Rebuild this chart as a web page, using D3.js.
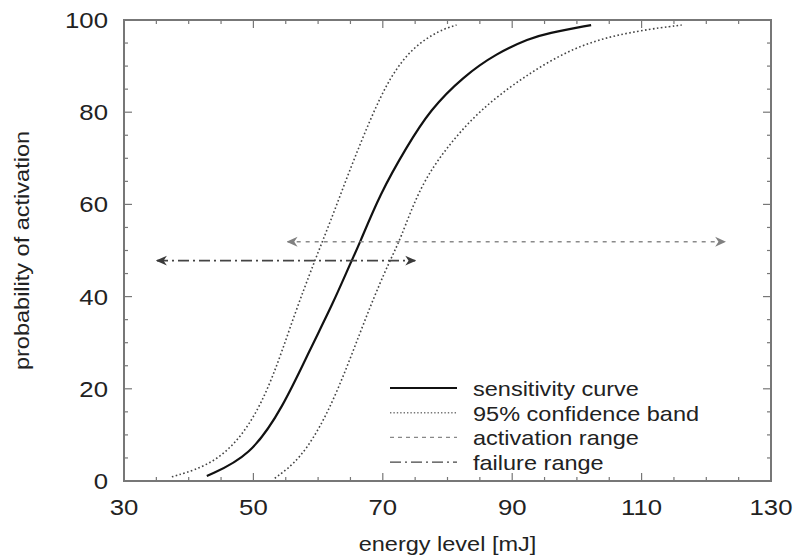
<!DOCTYPE html>
<html>
<head>
<meta charset="utf-8">
<script src="https://cdn.jsdelivr.net/npm/d3@7"></script>
<style>
  body { margin: 0; background: #fff; }
  text { font-family: "Liberation Sans", Arial, Helvetica, sans-serif; fill: #222; }
</style>
</head>
<body>
<div id="chart"></div>
<script>
// values
var xTicks = [30, 50, 70, 90, 110, 130];
var yTicks = [0, 20, 40, 60, 80, 100];

var sensX = [42.8, 49.5, 54.6, 58.7, 62.3, 65.2, 66.2, 69.6, 73.7, 77.3, 82.4, 87.6, 92.7, 95.3, 102.2];
var sensY = [1.1, 5.3, 16.1, 28.4, 38.5, 47.9, 50.8, 62.4, 72.5, 80.5, 87.7, 92.8, 96.0, 97.1, 98.9];

var loBandX = [37.4, 44.3, 49.5, 53.1, 56.2, 59.5, 61.8, 64.9, 68.0, 71.1, 74.7, 78.8, 81.4];
var loBandY = [0.9, 3.8, 11.8, 22.6, 35.6, 47.9, 55.9, 67.5, 78.3, 87.7, 94.2, 97.8, 98.9];

var hiBandX = [53.3, 57.2, 61.3, 64.9, 68.0, 71.1, 72.7, 75.7, 79.9, 85.0, 91.7, 100.5, 109.8, 116.2];
var hiBandY = [0.6, 4.6, 13.9, 26.2, 37.8, 47.9, 52.3, 63.8, 72.5, 80.5, 87.7, 95.0, 97.8, 98.9];

var activationRange = [55.3, 122.9], activationLevel = 51.9;
var failureRange = [35.1, 75.0], failureLevel = 47.8;

var legendLabels = ["sensitivity curve", "95% confidence band", "activation range", "failure range"];

// boilerplate
var W = 798, H = 559;
var margin = { top: 20, right: 27, bottom: 78, left: 124 },
    width = W - margin.left - margin.right,
    height = H - margin.top - margin.bottom;

var svg = d3.select("#chart").append("svg")
  .attr("width", W).attr("height", H);

var defs = svg.append("defs");
function addMarker(id, color) {
  defs.append("marker")
    .attr("id", id)
    .attr("viewBox", "0 -5 10 10")
    .attr("refX", 9).attr("refY", 0)
    .attr("markerWidth", 11).attr("markerHeight", 11)
    .attr("markerUnits", "userSpaceOnUse")
    .attr("orient", "auto-start-reverse")
    .append("path")
    .attr("d", "M0,-4.5L10,0L0,4.5L3,0Z")
    .attr("fill", color);
}
addMarker("arrGray", "#808080");
addMarker("arrDark", "#3a3a3a");

var g = svg.append("g")
  .attr("transform", "translate(" + margin.left + "," + margin.top + ")");

var xScale = d3.scaleLinear().domain([30, 130]).range([0, width]);
var yScale = d3.scaleLinear().domain([0, 100]).range([height, 0]);

// glyphs in the picture are a bit wider than tall
var stretch = 1.12;
function addText(sel, x, y, str, anchor, rot, size) {
  return sel.append("text")
    .attr("transform", "translate(" + x + "," + y + ")" + (rot ? " rotate(" + rot + ")" : "") + " scale(" + stretch + ",1)")
    .attr("text-anchor", anchor)
    .style("font-size", (size || 22) + "px")
    .text(str);
}

// ticks, inward on all four sides
var axisColor = "#777";
var minorX = d3.range(30, 131, 5), minorY = d3.range(0, 101, 5);
var tickG = g.append("g").attr("stroke", axisColor).attr("stroke-width", 1.2);
minorX.forEach(function(v) {
  var len = (xTicks.indexOf(v) >= 0) ? 8 : 4;
  tickG.append("line").attr("x1", xScale(v)).attr("x2", xScale(v)).attr("y1", height).attr("y2", height - len);
  tickG.append("line").attr("x1", xScale(v)).attr("x2", xScale(v)).attr("y1", 0).attr("y2", len);
});
minorY.forEach(function(v) {
  var len = (yTicks.indexOf(v) >= 0) ? 8 : 4;
  tickG.append("line").attr("y1", yScale(v)).attr("y2", yScale(v)).attr("x1", 0).attr("x2", len);
  tickG.append("line").attr("y1", yScale(v)).attr("y2", yScale(v)).attr("x1", width).attr("x2", width - len);
});

// frame
g.append("rect")
  .attr("width", width).attr("height", height)
  .attr("fill", "none").attr("stroke", axisColor).attr("stroke-width", 2);

// tick labels
xTicks.forEach(function(v) {
  addText(g, xScale(v), height + 34, String(v), "middle", 0, 23);
});
yTicks.forEach(function(v) {
  addText(g, -16, yScale(v) + 8, String(v), "end", 0, 23);
});

// axis titles
addText(g, width / 2, height + 70, "energy level [mJ]", "middle", 0, 21);
addText(g, -95, height / 2, "probability of activation", "middle", -90, 21);

// curves
var line = d3.line()
  .x(function(d) { return xScale(d[0]); })
  .y(function(d) { return yScale(d[1]); })
  .curve(d3.curveBasis);

function zipXY(xs, ys) { return xs.map(function(x, i) { return [x, ys[i]]; }); }

[zipXY(loBandX, loBandY), zipXY(hiBandX, hiBandY)].forEach(function(pts) {
  g.append("path").datum(pts)
    .attr("d", line).attr("fill", "none")
    .attr("stroke", "#444").attr("stroke-width", 1.6)
    .attr("stroke-dasharray", "1.6,2.4");
});
g.append("path").datum(zipXY(sensX, sensY))
  .attr("d", line).attr("fill", "none")
  .attr("stroke", "#111").attr("stroke-width", 2.2);

// range arrows
g.append("line")
  .attr("x1", xScale(activationRange[0])).attr("x2", xScale(activationRange[1]))
  .attr("y1", yScale(activationLevel)).attr("y2", yScale(activationLevel))
  .attr("stroke", "#8a8a8a").attr("stroke-width", 1.6)
  .attr("stroke-dasharray", "4,5")
  .attr("marker-start", "url(#arrGray)").attr("marker-end", "url(#arrGray)");
g.append("line")
  .attr("x1", xScale(failureRange[0])).attr("x2", xScale(failureRange[1]))
  .attr("y1", yScale(failureLevel)).attr("y2", yScale(failureLevel))
  .attr("stroke", "#444").attr("stroke-width", 1.7)
  .attr("stroke-dasharray", "11,4,2,4")
  .attr("marker-start", "url(#arrDark)").attr("marker-end", "url(#arrDark)");

// legend
var legStyles = [
  { stroke: "#111", w: 2, dash: null },
  { stroke: "#777", w: 1.4, dash: "1.4,2" },
  { stroke: "#888", w: 1.4, dash: "4,4" },
  { stroke: "#444", w: 1.4, dash: "11,4,2,4" }
];
var leg = g.append("g").attr("transform", "translate(" + (390 - margin.left) + "," + (388 - margin.top) + ")");
legendLabels.forEach(function(lbl, i) {
  var yy = i * 24.7;
  var s = legStyles[i];
  leg.append("line").attr("x1", 0).attr("x2", 67).attr("y1", yy).attr("y2", yy)
    .attr("stroke", s.stroke).attr("stroke-width", s.w)
    .attr("stroke-dasharray", s.dash);
  addText(leg, 83, yy + 8, lbl, "start", 0, 21);
});
</script>
</body>
</html>
